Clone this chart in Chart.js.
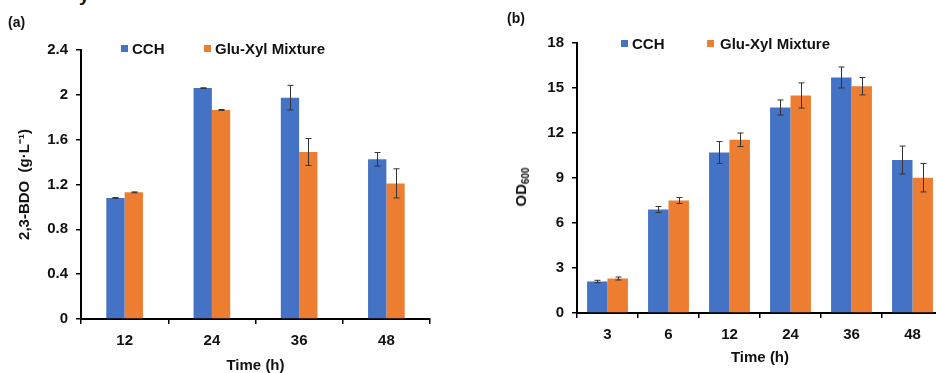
<!DOCTYPE html>
<html>
<head>
<meta charset="utf-8">
<script src="https://cdn.jsdelivr.net/npm/chart.js@4.4.1/dist/chart.umd.min.js"></script>
<style>
    html, body { margin: 0; padding: 0; background: #fff; }
    body { width: 936px; height: 373px; overflow: hidden; position: relative;
           font-family: "Liberation Sans", Arial, sans-serif; font-weight: bold; color: #111; }
    .box { position: absolute; top: 0; height: 373px; }
    .txt { position: absolute; white-space: nowrap; line-height: 1; }
    .sw { position: absolute; width: 7px; height: 7px; }
    .rot { position: absolute; white-space: nowrap; line-height: 1; font-size: 15px;
           transform: translate(-50%, -50%) rotate(-90deg); }
    .rot sub { font-size: 10px; vertical-align: -3px; }
</style>
</head>
<body>
<div class="txt" style="left:79px; top:-15px; font-size:19px;">y</div>

<div class="box" style="left:0; width:470px;"><canvas id="chart_bdo" width="470" height="373"></canvas></div>
<div class="box" style="left:470px; width:480px;"><canvas id="chart_od" width="480" height="373"></canvas></div>

<div class="txt" style="left:8px; top:15px; font-size:14px;">(a)</div>
<div class="txt" style="left:507px; top:11px; font-size:14px;">(b)</div>

<!-- titulo eje y (b) con subindice -->
<div class="rot" style="left:522px; top:187px;">OD<sub>600</sub></div>

<!-- leyendas -->
<div class="sw" style="left:121px; top:45px; background:#4472C4;"></div>
<div class="txt" style="left:132px; top:41px; font-size:15px;">CCH</div>
<div class="sw" style="left:204px; top:45px; background:#ED7D31;"></div>
<div class="txt" style="left:215px; top:41px; font-size:15px;">Glu-Xyl Mixture</div>

<div class="sw" style="left:621px; top:40px; background:#4472C4;"></div>
<div class="txt" style="left:632px; top:36px; font-size:15px;">CCH</div>
<div class="sw" style="left:707px; top:40px; background:#ED7D31;"></div>
<div class="txt" style="left:720px; top:36px; font-size:15px;">Glu-Xyl Mixture</div>

<script>
// (a) 2,3-BDO
const bdoHours = ['12', '24', '36', '48'];
const bdoCCH = [1.08, 2.06, 1.975, 1.425];
const bdoCCHErr = [0.004, 0.003, 0.11, 0.06];
const bdoMix = [1.13, 1.865, 1.49, 1.21];
const bdoMixErr = [0.004, 0.004, 0.12, 0.13];
const bdoTicks = [0, 0.4, 0.8, 1.2, 1.6, 2, 2.4];

// (b) OD600
const odHours = ['3', '6', '12', '24', '36', '48'];
const odCCH = [2.1, 6.9, 10.7, 13.7, 15.7, 10.2];
const odCCHErr = [0.08, 0.2, 0.73, 0.5, 0.7, 0.93];
const odMix = [2.3, 7.5, 11.55, 14.5, 15.12, 9.02];
const odMixErr = [0.1, 0.2, 0.45, 0.84, 0.58, 0.95];
const odTicks = [0, 3, 6, 9, 12, 15, 18];

const FONT = '"Liberation Sans", Arial, sans-serif';
const AZUL = '#4472C4';
const NARANJA = '#ED7D31';

const errorBars = {
    id: 'errorBars',
    afterDatasetsDraw(chart) {
        const ctx = chart.ctx;
        const y = chart.scales.y;
        chart.data.datasets.forEach((ds, i) => {
            chart.getDatasetMeta(i).data.forEach((bar, j) => {
                const v = ds.data[j], e = ds.errors[j];
                const top = y.getPixelForValue(v + e);
                const bot = y.getPixelForValue(v - e);
                const x = Math.round(bar.x) + 0.5;
                ctx.save();
                ctx.strokeStyle = '#333';
                ctx.lineWidth = 1;
                ctx.beginPath();
                ctx.moveTo(x, top); ctx.lineTo(x, bot);
                ctx.moveTo(x - 3, top); ctx.lineTo(x + 3, top);
                ctx.moveTo(x - 3, bot); ctx.lineTo(x + 3, bot);
                ctx.stroke();
                ctx.restore();
            });
        });
    }
};

function crearGrafico(id, labels, cch, cchErr, mix, mixErr, yTicks, cfg) {
    const ctx = document.getElementById(id).getContext('2d');
    return new Chart(ctx, {
        type: 'bar',
        data: {
            labels: labels,
            datasets: [
                { label: 'CCH', data: cch, errors: cchErr, backgroundColor: AZUL },
                { label: 'Glu-Xyl Mixture', data: mix, errors: mixErr, backgroundColor: NARANJA }
            ]
        },
        options: {
            responsive: false,
            animation: false,
            devicePixelRatio: 1,
            layout: { padding: cfg.padding },
            datasets: { bar: { categoryPercentage: cfg.catPct, barPercentage: 1 } },
            plugins: { legend: { display: false }, tooltip: { enabled: false } },
            scales: {
                x: {
                    grid: { drawOnChartArea: false, drawTicks: true, tickLength: 5, color: '#000', lineWidth: 1.5 },
                    border: { display: true, color: '#000', width: 2 },
                    ticks: { color: '#111', padding: 8, font: { family: FONT, size: 15, weight: 'bold' } },
                    title: {
                        display: true, text: 'Time (h)', color: '#111',
                        font: { family: FONT, size: 15, weight: 'bold', lineHeight: 1 },
                        padding: { top: 0, bottom: cfg.xTitleBottom }
                    },
                    afterFit: (s) => { s.height = cfg.xHeight; }
                },
                y: {
                    min: yTicks[0],
                    max: yTicks[yTicks.length - 1],
                    afterBuildTicks: (s) => { s.ticks = yTicks.map(v => ({ value: v })); },
                    grid: { drawOnChartArea: false, drawTicks: true, tickLength: 5, color: '#000', lineWidth: 1.5 },
                    border: { display: true, color: '#000', width: 2 },
                    ticks: {
                        color: '#111', padding: 8,
                        font: { family: FONT, size: 15, weight: 'bold' },
                        callback: (v) => String(v)
                    },
                    title: {
                        display: !!cfg.yTitle, text: cfg.yTitle || '', color: '#111',
                        font: { family: FONT, size: 15, weight: 'bold', lineHeight: 1 },
                        padding: { top: cfg.yTitleLeft, bottom: 0 }
                    },
                    afterFit: (s) => { s.width = cfg.yWidth; }
                }
            }
        },
        plugins: [errorBars]
    });
}

crearGrafico('chart_bdo', bdoHours, bdoCCH, bdoCCHErr, bdoMix, bdoMixErr, bdoTicks, {
    padding: { top: 50, right: 40, bottom: 0, left: 0 },
    catPct: 0.42, xHeight: 54, xTitleBottom: 0, yWidth: 81, yTitleLeft: 17.5,
    yTitle: '2,3-BDO  (g·L⁻¹)'
});

crearGrafico('chart_od', odHours, odCCH, odCCHErr, odMix, odMixErr, odTicks, {
    padding: { top: 43, right: 7, bottom: 0, left: 0 },
    catPct: 0.67, xHeight: 60, xTitleBottom: 7.5, yWidth: 107, yTitleLeft: 44,
    yTitle: null
});
</script>
</body>
</html>
